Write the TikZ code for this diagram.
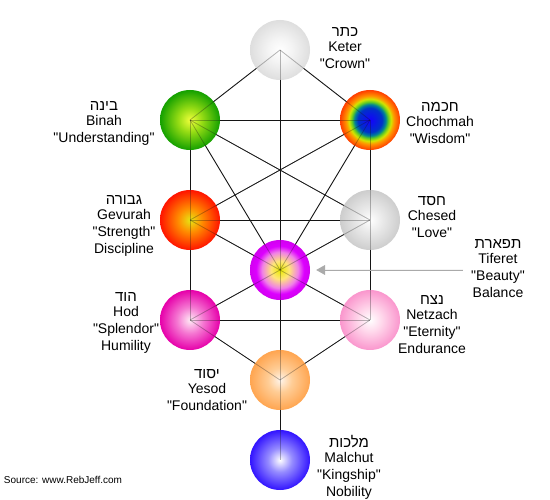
\documentclass[tikz,border=0pt]{standalone}
\usepackage{fontspec}
\setmainfont{Liberation Sans}[Ligatures=TeXOff]
\newfontfamily\hebfont[Script=Hebrew]{Liberation Sans}
\TeXXeTstate=1
\usetikzlibrary{arrows.meta}

\definecolor{edgecolor}{RGB}{20, 20, 20}
\definecolor{pointercolor}{RGB}{170, 170, 170}
\definecolor{labelcolor}{RGB}{0, 0, 0}
% sphere colours
\definecolor{ketermid}{RGB}{244, 244, 244}
\definecolor{keterout}{RGB}{222, 222, 222}
\definecolor{chochA}{RGB}{20, 0, 255}
\definecolor{chochB}{RGB}{0, 50, 200}
\definecolor{chochC}{RGB}{0, 130, 150}
\definecolor{chochD}{RGB}{90, 200, 40}
\definecolor{chochE}{RGB}{210, 230, 0}
\definecolor{chochF}{RGB}{255, 150, 0}
\definecolor{chochG}{RGB}{255, 60, 0}
\definecolor{binahin}{RGB}{240, 255, 60}
\definecolor{binahmid}{RGB}{150, 220, 20}
\definecolor{binahout}{RGB}{20, 160, 0}
\definecolor{gevurahin}{RGB}{230, 230, 20}
\definecolor{gevurahmid}{RGB}{255, 140, 0}
\definecolor{gevurahout}{RGB}{255, 20, 0}
\definecolor{chesedmid}{RGB}{234, 234, 234}
\definecolor{chesedout}{RGB}{205, 205, 205}
\definecolor{tiferetin}{RGB}{235, 235, 0}
\definecolor{tiferetA}{RGB}{255, 230, 120}
\definecolor{tiferetB}{RGB}{240, 130, 230}
\definecolor{tiferetC}{RGB}{220, 0, 255}
\definecolor{tiferetout}{RGB}{210, 0, 240}
\definecolor{hodin}{RGB}{255, 235, 245}
\definecolor{hodmid}{RGB}{245, 120, 210}
\definecolor{hodout}{RGB}{230, 0, 170}
\definecolor{netzachmid}{RGB}{255, 215, 235}
\definecolor{netzachout}{RGB}{250, 150, 205}
\definecolor{yesodin}{RGB}{255, 245, 235}
\definecolor{yesodmid}{RGB}{255, 205, 150}
\definecolor{yesodout}{RGB}{255, 165, 80}
\definecolor{malchutmid}{RGB}{150, 140, 255}
\definecolor{malchutout}{RGB}{50, 20, 255}

% the sphere's rim sits at 25bp
\pgfdeclareradialshading{ketershade}{\pgfpoint{0bp}{0bp}}{%
  color(0bp)=(white); color(10bp)=(ketermid); color(25bp)=(keterout); color(50bp)=(keterout)}
\pgfdeclareradialshading{chochmahshade}{\pgfpoint{0bp}{0bp}}{%
  color(0bp)=(chochA); color(10bp)=(chochB); color(13bp)=(chochC); color(15bp)=(chochD);
  color(17.5bp)=(chochE); color(20bp)=(chochF); color(25bp)=(chochG); color(50bp)=(chochG)}
\pgfdeclareradialshading{binahshade}{\pgfpoint{0bp}{0bp}}{%
  color(0bp)=(binahin); color(10bp)=(binahmid); color(25bp)=(binahout); color(50bp)=(binahout)}
\pgfdeclareradialshading{gevurahshade}{\pgfpoint{0bp}{0bp}}{%
  color(0bp)=(gevurahin); color(10bp)=(gevurahmid); color(25bp)=(gevurahout); color(50bp)=(gevurahout)}
\pgfdeclareradialshading{chesedshade}{\pgfpoint{0bp}{0bp}}{%
  color(0bp)=(white); color(10bp)=(chesedmid); color(25bp)=(chesedout); color(50bp)=(chesedout)}
\pgfdeclareradialshading{tiferetshade}{\pgfpoint{0bp}{0bp}}{%
  color(0bp)=(tiferetin); color(7.5bp)=(tiferetA); color(15bp)=(tiferetB);
  color(20bp)=(tiferetC); color(25bp)=(tiferetout); color(50bp)=(tiferetout)}
\pgfdeclareradialshading{hodshade}{\pgfpoint{0bp}{0bp}}{%
  color(0bp)=(hodin); color(11bp)=(hodmid); color(25bp)=(hodout); color(50bp)=(hodout)}
\pgfdeclareradialshading{netzachshade}{\pgfpoint{0bp}{0bp}}{%
  color(0bp)=(white); color(10bp)=(netzachmid); color(25bp)=(netzachout); color(50bp)=(netzachout)}
\pgfdeclareradialshading{yesodshade}{\pgfpoint{0bp}{0bp}}{%
  color(0bp)=(yesodin); color(10bp)=(yesodmid); color(25bp)=(yesodout); color(50bp)=(yesodout)}
\pgfdeclareradialshading{malchutshade}{\pgfpoint{0bp}{0bp}}{%
  color(0bp)=(white); color(10bp)=(malchutmid); color(25bp)=(malchutout); color(50bp)=(malchutout)}

\newcommand{\heb}[1]{{\hebfont\fontsize{15}{15}\selectfont\beginR #1\endR}}

\tikzset{
sefira/.style={
  circle,
  minimum size=60pt,
  inner sep=0pt,
  shading=#1
},
path/.style={
  draw=edgecolor,
  line width=0.8pt
},
ghostpath/.style={
  path,
  draw opacity=0.3
},
lbl/.style={
  align=center,
  text=labelcolor,
  inner sep=0pt,
  font=\fontsize{14}{17}\selectfont
},
pointer/.style={
  -{Triangle[length=9pt,width=10pt]},
  line width=0.8pt,
  draw=pointercolor,
  fill=pointercolor
}
}

\begin{document}
\begin{tikzpicture}[x=1pt,y=-1pt]
  \useasboundingbox (0,0) rectangle (550,500);

  % the ten sefirot
  \path
    (280,50)  coordinate (p-keter)
    (370,120) coordinate (p-chochmah)
    (190,120) coordinate (p-binah)
    (370,220) coordinate (p-chesed)
    (190,220) coordinate (p-gevurah)
    (280,270) coordinate (p-tiferet)
    (370,320) coordinate (p-netzach)
    (190,320) coordinate (p-hod)
    (280,380) coordinate (p-yesod)
    (280,460) coordinate (p-malchut);

  % paths
  \foreach \a/\b in {keter/chochmah, keter/binah, keter/tiferet,
      chochmah/binah, chochmah/chesed, chochmah/tiferet, chochmah/gevurah,
      binah/gevurah, binah/tiferet, binah/chesed,
      gevurah/chesed, gevurah/tiferet, gevurah/hod,
      chesed/tiferet, chesed/netzach,
      tiferet/netzach, tiferet/hod, tiferet/yesod,
      netzach/hod, netzach/yesod, hod/yesod, yesod/malchut}
    \draw[path] (p-\a) -- (p-\b);

  \node[sefira=ketershade]   (keter)    at (p-keter) {};
  \node[sefira=chochmahshade] (chochmah) at (p-chochmah) {};
  \node[sefira=binahshade]   (binah)    at (p-binah) {};
  \node[sefira=chesedshade]  (chesed)   at (p-chesed) {};
  \node[sefira=gevurahshade] (gevurah)  at (p-gevurah) {};
  \node[sefira=tiferetshade] (tiferet)  at (p-tiferet) {};
  \node[sefira=netzachshade] (netzach)  at (p-netzach) {};
  \node[sefira=hodshade]     (hod)      at (p-hod) {};
  \node[sefira=yesodshade]   (yesod)    at (p-yesod) {};
  \node[sefira=malchutshade] (malchut)  at (p-malchut) {};

  % faint paths seen through the spheres
  \foreach \a/\b in {keter/chochmah, keter/binah, keter/tiferet,
      chochmah/binah, chochmah/chesed, chochmah/tiferet, chochmah/gevurah,
      binah/gevurah, binah/tiferet, binah/chesed,
      gevurah/chesed, gevurah/tiferet, gevurah/hod,
      chesed/tiferet, chesed/netzach,
      tiferet/netzach, tiferet/hod, tiferet/yesod,
      netzach/hod, netzach/yesod, hod/yesod, yesod/malchut}
    \draw[ghostpath] (\a.center) -- (\b.center);

  % labels
  \node[lbl] (keterlbl)    at (345,48)  {\heb{כתר}\\[-2pt]Keter\\"Crown"};
  \node[lbl] (chochmahlbl) at (440,123) {\heb{חכמה}\\[-2pt]Chochmah\\"Wisdom"};
  \node[lbl] (binahlbl)    at (104,123) {\heb{בינה}\\[-2pt]Binah\\"Understanding"};
  \node[lbl] (chesedlbl)   at (432,217) {\heb{חסד}\\[-2pt]Chesed\\"Love"};
  \node[lbl] (gevurahlbl)  at (124,226) {\heb{גבורה}\\[-2pt]Gevurah\\"Strength"\\Discipline};
  \node[lbl] (tiferetlbl)  at (498,269) {\heb{תפארת}\\[-2pt]Tiferet\\"Beauty"\\Balance};
  \node[lbl] (netzachlbl)  at (432,325) {\heb{נצח}\\[-2pt]Netzach\\"Eternity"\\Endurance};
  \node[lbl] (hodlbl)      at (126,323) {\heb{הוד}\\[-2pt]Hod\\"Splendor"\\Humility};
  \node[lbl] (yesodlbl)    at (207,390) {\heb{יסוד}\\[-2pt]Yesod\\"Foundation"};
  \node[lbl] (malchutlbl)  at (349,467) {\heb{מלכות}\\[-2pt]Malchut\\"Kingship"\\Nobility};

  \node[lbl, font=\fontsize{10}{11}\selectfont] (source) at (63,480) {Source: www.RebJeff.com};

  % pointer to Tiferet
  \coordinate (pointerstart) at (463,270);
  \draw[pointer, shorten >=6pt] (pointerstart) -- (tiferet);
\end{tikzpicture}
\end{document}
